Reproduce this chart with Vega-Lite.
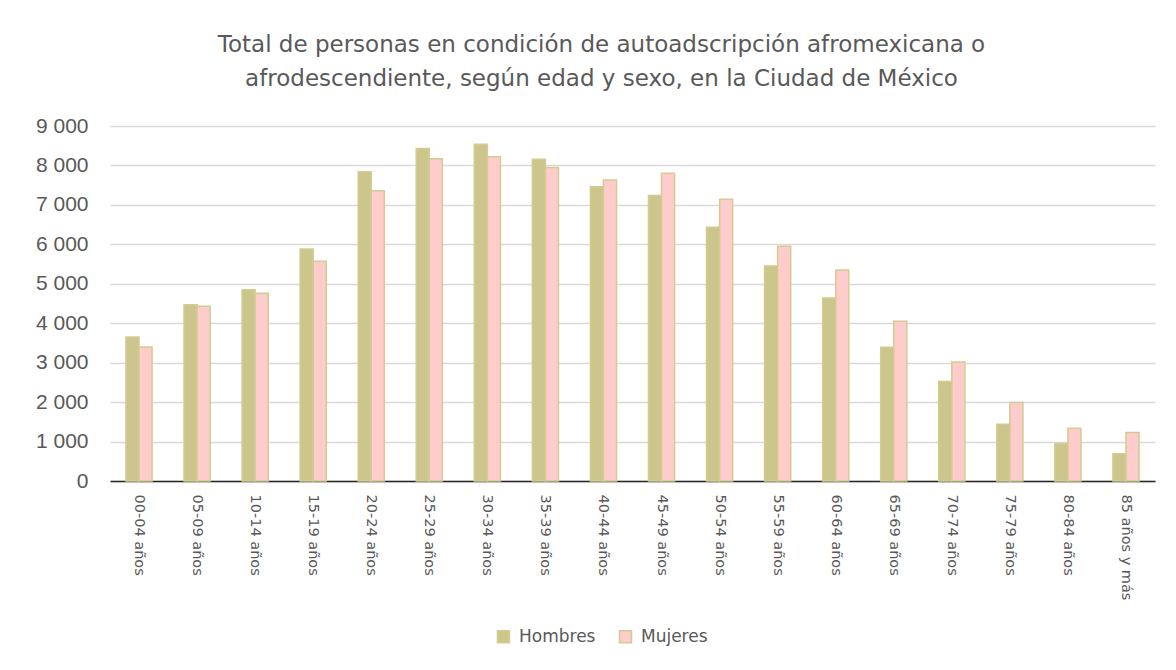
{
  "$schema": "https://vega.github.io/schema/vega-lite/v6.json",
  "width": 1045,
  "height": 355,
  "autosize": {"type": "none"},
  "padding": {"left": 110, "top": 126, "right": 21, "bottom": 189},
  "background": "#ffffff",
  "title": {
    "text": ["Total de personas en condición de autoadscripción afromexicana o", "afrodescendiente, según edad y sexo, en la Ciudad de México"],
    "font": "DejaVu Sans",
    "fontSize": 23,
    "fontWeight": "normal",
    "color": "#595959",
    "anchor": "middle",
    "lineHeight": 34,
    "offset": 24,
    "dx": -31
  },
  "data": {
    "values": [
      {"edad": "00-04 años", "sexo": "Hombres", "personas": 3650},
      {"edad": "00-04 años", "sexo": "Mujeres", "personas": 3400},
      {"edad": "05-09 años", "sexo": "Hombres", "personas": 4470},
      {"edad": "05-09 años", "sexo": "Mujeres", "personas": 4430},
      {"edad": "10-14 años", "sexo": "Hombres", "personas": 4850},
      {"edad": "10-14 años", "sexo": "Mujeres", "personas": 4760},
      {"edad": "15-19 años", "sexo": "Hombres", "personas": 5880},
      {"edad": "15-19 años", "sexo": "Mujeres", "personas": 5570},
      {"edad": "20-24 años", "sexo": "Hombres", "personas": 7840},
      {"edad": "20-24 años", "sexo": "Mujeres", "personas": 7360},
      {"edad": "25-29 años", "sexo": "Hombres", "personas": 8430},
      {"edad": "25-29 años", "sexo": "Mujeres", "personas": 8170},
      {"edad": "30-34 años", "sexo": "Hombres", "personas": 8540},
      {"edad": "30-34 años", "sexo": "Mujeres", "personas": 8220},
      {"edad": "35-39 años", "sexo": "Hombres", "personas": 8160},
      {"edad": "35-39 años", "sexo": "Mujeres", "personas": 7950},
      {"edad": "40-44 años", "sexo": "Hombres", "personas": 7460},
      {"edad": "40-44 años", "sexo": "Mujeres", "personas": 7630},
      {"edad": "45-49 años", "sexo": "Hombres", "personas": 7240},
      {"edad": "45-49 años", "sexo": "Mujeres", "personas": 7800},
      {"edad": "50-54 años", "sexo": "Hombres", "personas": 6430},
      {"edad": "50-54 años", "sexo": "Mujeres", "personas": 7140},
      {"edad": "55-59 años", "sexo": "Hombres", "personas": 5450},
      {"edad": "55-59 años", "sexo": "Mujeres", "personas": 5950},
      {"edad": "60-64 años", "sexo": "Hombres", "personas": 4640},
      {"edad": "60-64 años", "sexo": "Mujeres", "personas": 5350},
      {"edad": "65-69 años", "sexo": "Hombres", "personas": 3390},
      {"edad": "65-69 años", "sexo": "Mujeres", "personas": 4050},
      {"edad": "70-74 años", "sexo": "Hombres", "personas": 2520},
      {"edad": "70-74 años", "sexo": "Mujeres", "personas": 3020},
      {"edad": "75-79 años", "sexo": "Hombres", "personas": 1440},
      {"edad": "75-79 años", "sexo": "Mujeres", "personas": 1990},
      {"edad": "80-84 años", "sexo": "Hombres", "personas": 950},
      {"edad": "80-84 años", "sexo": "Mujeres", "personas": 1340},
      {"edad": "85 años y más", "sexo": "Hombres", "personas": 690},
      {"edad": "85 años y más", "sexo": "Mujeres", "personas": 1230}
    ]
  },
  "mark": {"type": "bar", "stroke": "#D3CB92", "strokeWidth": 1.5},
  "encoding": {
    "x": {
      "field": "edad",
      "type": "nominal",
      "sort": null,
      "scale": {"paddingInner": 0.55, "paddingOuter": 0.275},
      "axis": {
        "title": null,
        "labelAngle": 90,
        "labelFont": "DejaVu Sans",
        "labelFontSize": 14.5,
        "labelColor": "#595959",
        "labelPadding": 13,
        "ticks": false,
        "domainColor": "#262626",
        "domainWidth": 1.5,
        "grid": false
      }
    },
    "xOffset": {"field": "sexo", "type": "nominal", "sort": ["Hombres", "Mujeres"]},
    "y": {
      "field": "personas",
      "type": "quantitative",
      "scale": {"domain": [0, 9000], "nice": false},
      "axis": {
        "title": null,
        "values": [0, 1000, 2000, 3000, 4000, 5000, 6000, 7000, 8000, 9000],
        "labelExpr": "replace(format(datum.value, ','), ',', ' ')",
        "labelFont": "Liberation Sans",
        "labelFontSize": 21,
        "labelColor": "#595959",
        "labelPadding": 22,
        "ticks": false,
        "domain": false,
        "gridColor": "#d9d9d9",
        "gridWidth": 1.3
      }
    },
    "color": {
      "field": "sexo",
      "type": "nominal",
      "scale": {"domain": ["Hombres", "Mujeres"], "range": ["#CCC68D", "#FFCCCC"]},
      "legend": {
        "title": null,
        "orient": "none",
        "legendX": 385,
        "legendY": 502,
        "direction": "horizontal",
        "symbolType": "square",
        "symbolSize": 144,
        "symbolStrokeColor": "#D3CB92",
        "symbolStrokeWidth": 1.5,
        "labelFont": "DejaVu Sans",
        "labelFontSize": 17,
        "labelColor": "#595959",
        "labelOffset": 7,
        "columnPadding": 20
      }
    }
  },
  "config": {"view": {"stroke": null}}
}
